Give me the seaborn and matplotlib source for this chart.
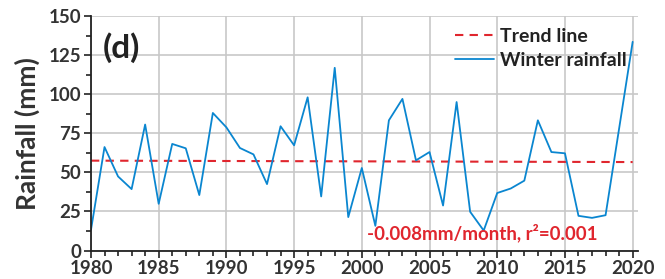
import seaborn as sns
import matplotlib.pyplot as plt
from matplotlib.ticker import MultipleLocator
import pandas as pd

# Winter rainfall series
years = list(range(1980, 2021))
rainfall = [13.2, 66.2, 47.4, 39.3, 80.6, 29.9, 68.2, 65.4, 35.5, 88.0,
            78.8, 65.6, 61.5, 42.5, 79.5, 67.3, 98.0, 34.6, 116.9, 21.4,
            52.8, 15.8, 83.3, 97.0, 57.7, 63.0, 28.8, 95.0, 24.8, 12.8,
            36.8, 39.7, 44.7, 83.3, 63.0, 62.2, 22.2, 20.9, 22.6, 78.0,
            133.5]
trend_years = [1980, 2020]
trend_values = [57.5, 56.6]

data = pd.DataFrame({'Year': years, 'Rainfall': rainfall})
trend = pd.DataFrame({'Year': trend_years, 'Rainfall': trend_values})

sns.set_style('white')
plt.rcParams['font.family'] = ['Lato', 'DejaVu Sans']
plt.rcParams['font.weight'] = 'bold'

blue = '#0a86d0'
red = '#e0262e'

fig = plt.figure(figsize=(6.65, 2.79), dpi=100)
ax = fig.add_axes([0.1368, 0.102, 0.8227, 0.8405])

sns.lineplot(data=trend, x='Year', y='Rainfall', ax=ax, color=red,
             linestyle=(0, (4, 3)), linewidth=1.5, label='Trend line')
sns.lineplot(data=data, x='Year', y='Rainfall', ax=ax, color=blue,
             linewidth=1.3, label='Winter rainfall')

ax.set_xlim(1980, 2020.4)
ax.set_ylim(0, 150)
ax.xaxis.set_major_locator(MultipleLocator(5))
ax.xaxis.set_minor_locator(MultipleLocator(1))
ax.yaxis.set_major_locator(MultipleLocator(25))
ax.yaxis.set_minor_locator(MultipleLocator(12.5))
ax.tick_params(which='both', direction='out', color='#222222', width=1.2,
               labelsize=13.5, labelcolor='#333333', pad=2)
ax.tick_params(which='major', length=5)
ax.tick_params(which='minor', length=3.5)
ax.tick_params(axis='x', which='both', bottom=True)
ax.tick_params(axis='y', which='both', left=True)

ax.grid(which='major', color='#c8c8c8', linewidth=1.2)
# no gridline at the right edge (2020) in the reference
ax.get_xgridlines()[-1].set_visible(False)
for side in ['top', 'right']:
    ax.spines[side].set_visible(False)
for side in ['left', 'bottom']:
    ax.spines[side].set_color('#222222')
    ax.spines[side].set_linewidth(1.3)

ax.set_xlabel('')
ax.set_ylabel('Rainfall (mm)', fontsize=19, fontweight='bold', color='#333333', labelpad=6)

ax.text(0.022, 0.865, '(d)', transform=ax.transAxes, fontsize=24,
        fontweight='bold', color='#222222', va='center')
ax.text(0.505, 0.075, '-0.008mm/month, r²=0.001', transform=ax.transAxes,
        fontsize=13.5, fontweight='bold', color=red, va='center')

leg = ax.legend(loc='upper right', bbox_to_anchor=(1.0, 1.0), frameon=False,
                fontsize=14, handlelength=2.0, handletextpad=0.3,
                labelspacing=0.35, borderaxespad=0.2)
for t in leg.get_texts():
    t.set_color('#222222')

fig.savefig('out.png', dpi=100)
